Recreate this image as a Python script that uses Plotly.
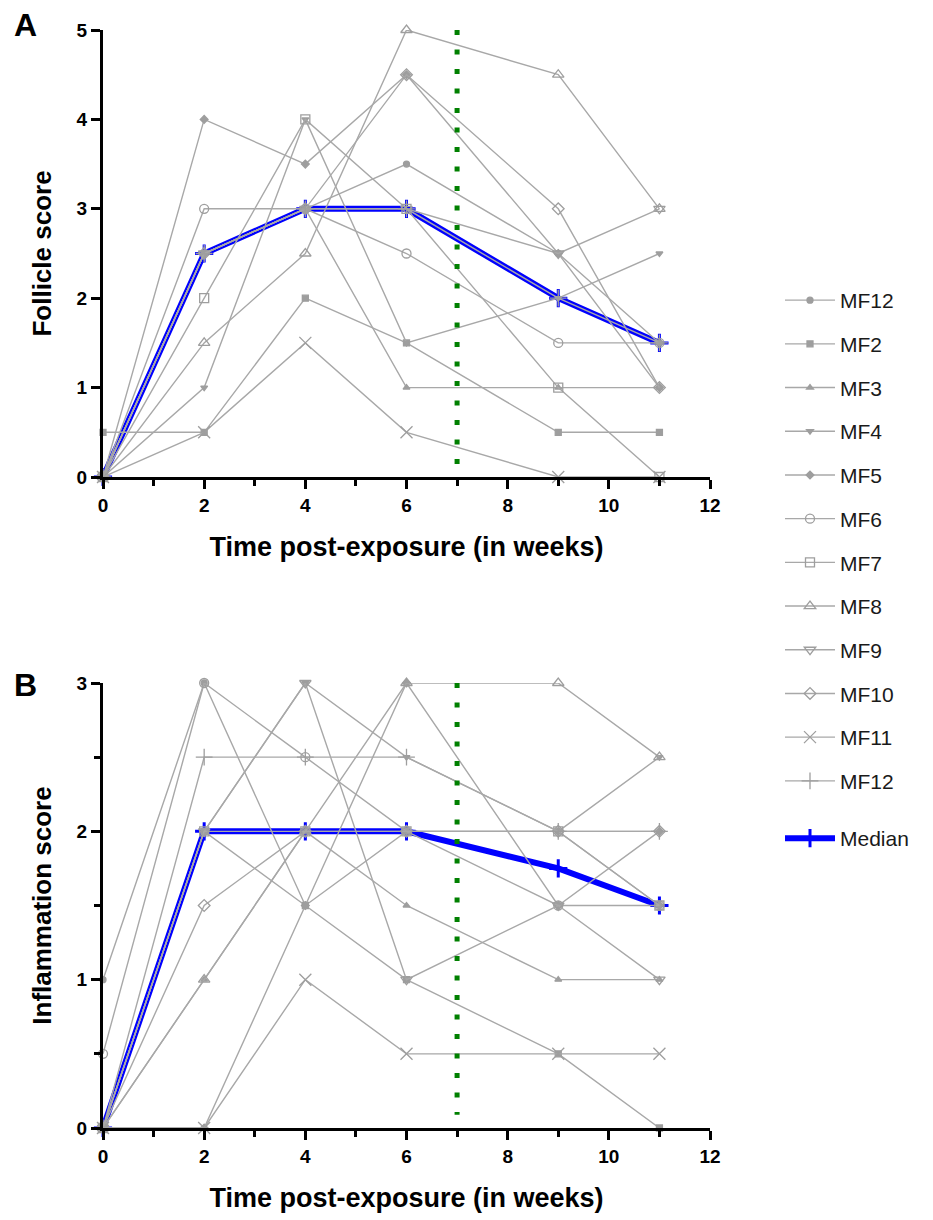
import plotly.graph_objects as go

# ---------------- data ----------------
weeks = [0, 2, 4, 6, 9, 11]
series_names = ["MF12", "MF2", "MF3", "MF4", "MF5", "MF6",
                "MF7", "MF8", "MF9", "MF10", "MF11", "MF12"]

# Panel A: follicle score
fol_mf12a = [0, 2.5, 3, 3.5, 2.5, 1.5]
fol_mf2 = [0.5, 0.5, 2, 1.5, 0.5, 0.5]
fol_mf3 = [0, 2.5, 3, 1, 1, 1]
fol_mf4 = [0, 1, 4, 1.5, 2, 2.5]
fol_mf5 = [0, 4, 3.5, 4.5, 2.5, 1]
fol_mf6 = [0, 3, 3, 2.5, 1.5, 1.5]
fol_mf7 = [0, 2, 4, 3, 1, 0]
fol_mf8 = [0, 1.5, 2.5, 5, 4.5, 3]
fol_mf9 = [0, 2.5, 3, 3, 2.5, 3]
fol_mf10 = [0, 2.5, 3, 4.5, 3, 1]
fol_mf11 = [0, 0.5, 1.5, 0.5, 0, 0]
fol_mf12b = [0, 2.5, 3, 3, 2, 1.5]
fol_median = [0, 2.5, 3, 3, 2, 1.5]

# Panel B: inflammation score
inf_mf12a = [1, 3, 1.5, 2, 2, 1.5]
inf_mf2 = [0, 2, 1.5, 1, 0.5, 0]
inf_mf3 = [0, 1, 2, 1.5, 1, 1]
inf_mf4 = [0, 2, 3, 2.5, 2, 2.5]
inf_mf5 = [0, 0, 1.5, 3, 1.5, 2]
inf_mf6 = [0.5, 3, 2.5, 2, 1.5, 1.5]
inf_mf7 = [0, 2, 2, 2, 2, 1.5]
inf_mf8 = [0, 1, 2, 3, 3, 2.5]
inf_mf9 = [0, 2, 3, 1, 1.5, 1]
inf_mf10 = [0, 1.5, 2, 2, 2, 2]
inf_mf11 = [0, 0, 1, 0.5, 0.5, 0.5]
inf_mf12b = [0, 2.5, 2.5, 2.5, 2, 2]
inf_median = [0, 2, 2, 2, 1.75, 1.5]

exposure_week = 7
x_ticks = [0, 2, 4, 6, 8, 10, 12]

# ---------------- styles ----------------
fol_series = [fol_mf12a, fol_mf2, fol_mf3, fol_mf4, fol_mf5, fol_mf6,
              fol_mf7, fol_mf8, fol_mf9, fol_mf10, fol_mf11, fol_mf12b]
inf_series = [inf_mf12a, inf_mf2, inf_mf3, inf_mf4, inf_mf5, inf_mf6,
              inf_mf7, inf_mf8, inf_mf9, inf_mf10, inf_mf11, inf_mf12b]
symbols = ["circle", "square", "triangle-up", "triangle-down", "diamond",
           "circle-open", "square-open", "triangle-up-open",
           "triangle-down-open", "diamond-open", "x-thin-open",
           "cross-thin-open"]
sizes = [6, 6, 6, 6, 6, 9, 9, 10, 10, 9, 12, 12]

GREY_LINE = "#a8a8a8"
GREY_MARK = "#9e9e9e"
BLUE = "#0000ff"
FONT = "Liberation Sans, Arial, sans-serif"

# page body has an 8px margin; figure is sized so it fits the window
OFF = 8
W, H = 925, 1212


def px(p):
    return (p - OFF) / W


def py(p):
    return 1 - (p - OFF) / H


fig = go.Figure()

panels = [("x", "y", fol_series, fol_median, True),
          ("x2", "y2", inf_series, inf_median, False)]

for xa, ya, data, med, show in panels:
    fig.add_trace(go.Scatter(
        x=weeks, y=med, xaxis=xa, yaxis=ya, name="Median",
        mode="lines+markers", cliponaxis=False,
        line=dict(color=BLUE, width=6),
        marker=dict(symbol="cross-thin-open", size=13,
                    line=dict(color=BLUE, width=3)),
        legend="legend2", showlegend=show))
    for i, (name, vals, sym, sz) in enumerate(zip(series_names, data, symbols, sizes)):
        fig.add_trace(go.Scatter(
            x=weeks, y=vals, xaxis=xa, yaxis=ya, name=name,
            mode="lines+markers", cliponaxis=False,
            legendgroup="g%d" % i,
            line=dict(color=GREY_LINE, width=1.4),
            marker=dict(symbol=sym, size=sz, color=GREY_MARK,
                        line=dict(color=GREY_MARK, width=1.3)),
            legend="legend", showlegend=show))

# dotted green reference lines at week 7
fig.add_shape(type="line", xref="x", yref="y", x0=exposure_week, x1=exposure_week,
              y0=5, y1=0.14, line=dict(color="#008000", width=5, dash="5px,14.5px"))
fig.add_shape(type="line", xref="x2", yref="y2", x0=exposure_week, x1=exposure_week,
              y0=3.0, y1=0.09, line=dict(color="#008000", width=5, dash="5px,14.5px"))

xdom = [px(103), px(710)]

axis_common = dict(showline=True, linecolor="black", linewidth=3, mirror=False,
                   showgrid=False, zeroline=False, ticks="outside", tickwidth=3,
                   tickcolor="black", ticklen=9,
                   tickfont=dict(family=FONT, size=19, color="black", weight="bold"),
                   automargin=False)

title_font = dict(family=FONT, size=26, color="black", weight="bold")
xtitle_font = dict(family=FONT, size=27, color="black", weight="bold")

xaxis_common = dict(axis_common, range=[0, 12], tickvals=x_ticks,
                    minor=dict(tickvals=[1, 3, 5, 7, 9, 11], ticklen=6, tickwidth=3,
                               tickcolor="black", ticks="outside"),
                    title=dict(text="Time post-exposure (in weeks)", standoff=23,
                               font=xtitle_font))

fig.update_layout(
    width=W, height=H, template="none",
    paper_bgcolor="white", plot_bgcolor="white",
    margin=dict(l=0, r=0, t=0, b=0),
    xaxis=dict(xaxis_common, domain=xdom, anchor="y"),
    xaxis2=dict(xaxis_common, domain=xdom, anchor="y2"),
    yaxis=dict(axis_common, domain=[py(477), py(30)], anchor="x",
               range=[0, 5], tickvals=[0, 1, 2, 3, 4, 5],
               title=dict(text="Follicle score", standoff=18, font=title_font)),
    yaxis2=dict(axis_common, domain=[py(1128), py(683)], anchor="x2",
                range=[0, 3], tickvals=[0, 1, 2, 3],
                minor=dict(tickvals=[0.5, 1.5, 2.5], ticklen=6, tickwidth=3,
                           tickcolor="black", ticks="outside"),
                title=dict(text="Inflammation score", standoff=18, font=title_font)),
    legend=dict(x=px(780), y=py(280), xanchor="left", yanchor="top",
                traceorder="grouped", tracegroupgap=13.4, itemwidth=50,
                font=dict(family=FONT, size=21, color="#1a1a1a"),
                bgcolor="rgba(0,0,0,0)"),
    legend2=dict(x=px(780), y=py(818), xanchor="left", yanchor="top",
                 itemwidth=50,
                 font=dict(family=FONT, size=21, color="#1a1a1a"),
                 bgcolor="rgba(0,0,0,0)"),
    annotations=[
        dict(text="A", x=px(25), y=py(25), xref="paper", yref="paper",
             showarrow=False, xanchor="center", yanchor="middle",
             font=dict(family=FONT, size=32, color="black", weight="bold")),
        dict(text="B", x=px(25), y=py(685), xref="paper", yref="paper",
             showarrow=False, xanchor="center", yanchor="middle",
             font=dict(family=FONT, size=32, color="black", weight="bold")),
    ],
)

fig.write_html("out.html")
